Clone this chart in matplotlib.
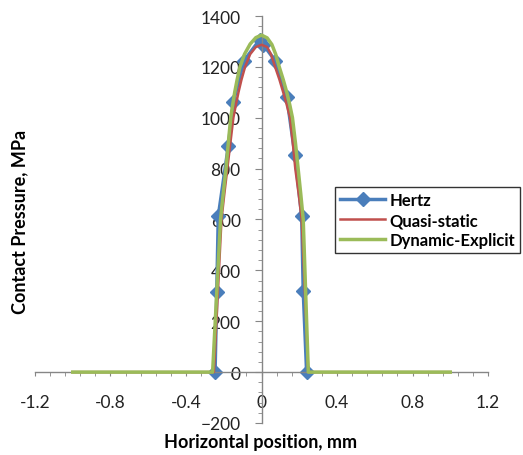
import matplotlib.pyplot as plt
from matplotlib.ticker import MultipleLocator

# 字体：接近 Calibri 的效果
plt.rcParams['font.family'] = ['Lato', 'DejaVu Sans']

# Hertz 解析解（带菱形标记）
hertz_x = [-0.246, -0.237, -0.229, -0.176, -0.149, -0.093, -0.01, 0.01,
           0.072, 0.134, 0.177, 0.213, 0.221, 0.239]
hertz_p = [0, 315, 613, 887, 1062, 1224, 1306, 1287,
           1225, 1082, 854, 613, 320, 0]

# 准静态有限元结果
quasi_x = [-1.0, -0.252, -0.212, -0.197, -0.181, -0.165, -0.149, -0.136, -0.122,
           -0.106, -0.087, -0.06, -0.03, 0.0, 0.03, 0.05, 0.072, 0.095, 0.115,
           0.134, 0.151, 0.166, 0.179, 0.197, 0.213, 0.248, 1.0]
quasi_p = [0, 0, 600, 700, 800, 900, 1000, 1050, 1100,
           1150, 1200, 1250, 1278, 1287, 1278, 1250, 1200, 1150, 1100,
           1050, 1000, 900, 800, 700, 600, 0, 0]

# 显式动力学结果
dyn_x = [-1.0, -0.259, -0.217, -0.203, -0.188, -0.176, -0.163, -0.153, -0.142,
         -0.129, -0.114, -0.09, -0.06, -0.03, 0.0, 0.03, 0.055, 0.075, 0.094,
         0.115, 0.134, 0.150, 0.164, 0.180, 0.194, 0.208, 0.221, 0.248, 1.0]
dyn_p = [0, 0, 600, 700, 800, 900, 1000, 1050, 1100,
         1150, 1200, 1250, 1290, 1315, 1325, 1314, 1288, 1250, 1200,
         1150, 1100, 1050, 1000, 900, 800, 700, 600, 0, 0]

fig = plt.figure(figsize=(5.23, 4.56), dpi=100)
ax = fig.add_axes([0.0669, 0.0702, 0.8662, 0.8925])

ax.plot(hertz_x, hertz_p, color='#4A7EBB', lw=2.5, marker='D', ms=7.5,
        label='Hertz', zorder=2)
ax.plot(quasi_x, quasi_p, color='#C0504D', lw=1.8, label='Quasi-static', zorder=3)
ax.plot(dyn_x, dyn_p, color='#9BBB59', lw=2.5, label='Dynamic-Explicit', zorder=4)

ax.set_xlim(-1.2, 1.2)
ax.set_ylim(-200, 1400)

# 坐标轴穿过原点
ax.spines['left'].set_position(('data', 0))
ax.spines['bottom'].set_position(('data', 0))
ax.spines['top'].set_visible(False)
ax.spines['right'].set_visible(False)
for s in ('left', 'bottom'):
    ax.spines[s].set_color('#868686')
    ax.spines[s].set_linewidth(1.0)

ax.xaxis.set_minor_locator(MultipleLocator(0.08))
ax.yaxis.set_major_locator(MultipleLocator(200))
ax.yaxis.set_minor_locator(MultipleLocator(40))
ax.set_xticks([-1.2, -0.8, -0.4, 0, 0.4, 0.8, 1.2])
ax.set_xticklabels(['-1.2', '-0.8', '-0.4', '0', '0.4', '0.8', '1.2'])

ax.tick_params(axis='x', which='both', direction='out', length=3, color='#868686',
               labelsize=12.5, pad=13, labelcolor='#222222')
ax.tick_params(axis='y', which='major', direction='out', length=5, color='#868686',
               labelsize=12.5, pad=10, labelcolor='#222222')
ax.tick_params(axis='y', which='minor', direction='out', length=3, color='#868686')

fig.text(261 / 523, 1 - 443 / 456, 'Horizontal position, mm', ha='center', va='center',
         fontsize=13, fontweight='bold')
fig.text(20 / 523, 1 - 222 / 456, 'Contact Pressure, MPa', ha='center', va='center',
         rotation=90, fontsize=13, fontweight='bold')

leg = fig.legend(loc='upper left', bbox_to_anchor=(335 / 523, 1 - 188 / 456),
                 fancybox=False, edgecolor='#333333', framealpha=1,
                 prop={'weight': 'bold', 'size': 12}, handlelength=2.7,
                 handletextpad=0.25, labelspacing=0.25, borderpad=0.3,
                 borderaxespad=0)
leg.get_frame().set_linewidth(1.0)

fig.savefig('out.png', dpi=100)
